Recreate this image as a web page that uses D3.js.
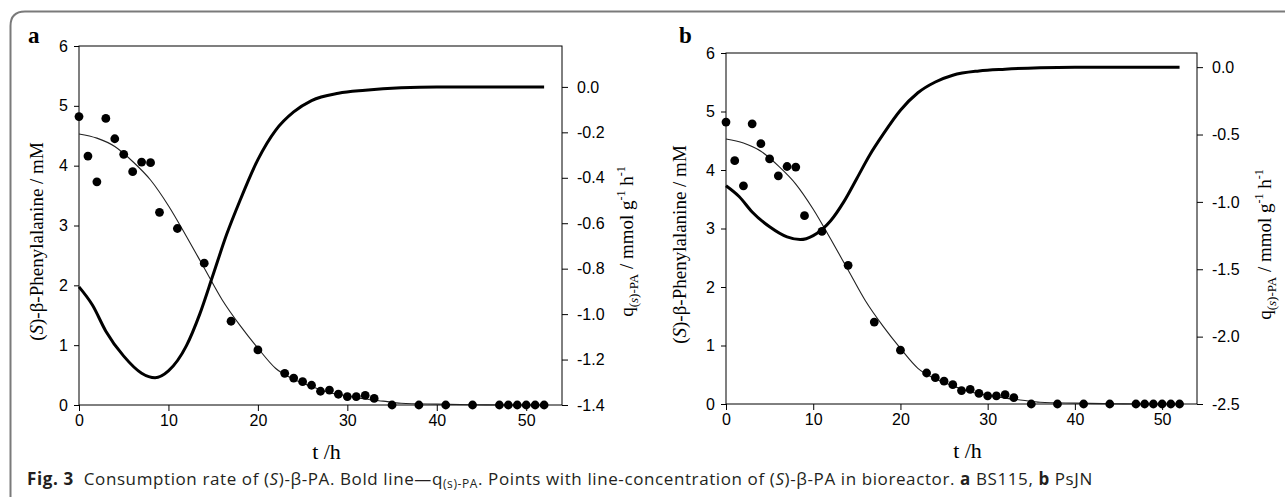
<!DOCTYPE html>
<html>
<head>
<meta charset="utf-8">
<script src="https://cdn.jsdelivr.net/npm/d3@7"></script>
<style>
  body { margin: 0; background: #fff; }
  svg { display: block; }
</style>
</head>
<body>
<div id="chart"></div>
<script>
// measured concentration of (S)-b-PA (points), both panels
const pointTimes = [0, 1, 2, 3, 4, 5, 6, 7, 8, 9, 11, 14, 17, 20, 23, 24, 25, 26, 27, 28, 29, 30, 31, 32, 33, 35, 38, 41, 44, 47, 48, 49, 50, 51, 52]
const pointConc  = [4.82, 4.16, 3.73, 4.79, 4.45, 4.19, 3.90, 4.06, 4.05, 3.22, 2.95, 2.37, 1.40, 0.92, 0.53, 0.45, 0.39, 0.33, 0.23, 0.25, 0.18, 0.14, 0.14, 0.16, 0.11, 0.0, 0.0, 0.0, 0.0, 0.0, 0.0, 0.0, 0.0, 0.0, 0.0]

// thin fitted line through the points
const fitTimes = [0, 2, 4, 6, 8, 10, 12, 14, 16, 18, 20, 22, 24, 26, 28, 30, 32, 34, 36, 40, 44, 48, 52]
const fitConc  = [4.53, 4.46, 4.32, 4.07, 3.76, 3.33, 2.82, 2.29, 1.76, 1.33, 0.95, 0.61, 0.43, 0.31, 0.21, 0.15, 0.10, 0.065, 0.03, 0.015, 0.005, 0.0, 0.0]

// bold line, q(s)-PA (right axis)
const qTimes = [0, 1.5, 3, 5, 7, 8.5, 10, 12, 13.5, 15, 16.5, 18, 20, 22, 24, 26, 29, 32, 36, 40, 52]
const qRate  = [-0.88, -0.96, -1.075, -1.185, -1.26, -1.28, -1.25, -1.14, -1.00, -0.826, -0.65, -0.50, -0.32, -0.19, -0.11, -0.06, -0.028, -0.015, -0.004, 0, 0]

const xTicks = [0, 10, 20, 30, 40, 50]
const leftTicks = [0, 1, 2, 3, 4, 5, 6]
const rightTicksA = [-1.4, -1.2, -1.0, -0.8, -0.6, -0.4, -0.2, 0.0]
const rightTicksB = [-2.5, -2.0, -1.5, -1.0, -0.5, 0.0]

const points = pointTimes.map((t, i) => ({t, c: pointConc[i]}))
const fit = fitTimes.map((t, i) => ({t, c: fitConc[i]}))
const qLine = qTimes.map((t, i) => ({t, q: qRate[i]}))

const width = 1285, height = 497

const svg = d3.select("#chart").append("svg")
    .attr("width", width)
    .attr("height", height)

// frame around the figure (top + left, rounded corner)
svg.append("path")
    .attr("d", "M10.5,500 L10.5,26 Q10.5,11.5 25,11.5 L1290,11.5")
    .attr("fill", "none")
    .attr("stroke", "#7a7a7a")
    .attr("stroke-width", 2)

const serif = "'Liberation Serif', 'Times New Roman', serif"
const sans = "'Liberation Sans', Arial, sans-serif"

function drawPanel(p) {
    const xScale = d3.scaleLinear().domain([0, 54]).range([p.left, p.right])
    const yScale = d3.scaleLinear().domain([0, 6]).range([p.bottom, p.top])
    const qScale = d3.scaleLinear().domain(p.qDomain).range([p.bottom, p.top])

    const g = svg.append("g")

    // plot box
    g.append("rect")
        .attr("x", p.left).attr("y", p.top)
        .attr("width", p.right - p.left).attr("height", p.bottom - p.top)
        .attr("fill", "none").attr("stroke", "#000").attr("stroke-width", 1)

    const xAxis = g.append("g")
        .attr("transform", `translate(0,${p.bottom})`)
        .call(d3.axisBottom(xScale).tickValues(xTicks).tickSize(6).tickPadding(4)
            .tickFormat(d3.format("d")))
    const yAxis = g.append("g")
        .attr("transform", `translate(${p.left},0)`)
        .call(d3.axisLeft(yScale).tickValues(leftTicks).tickSize(5).tickPadding(6)
            .tickFormat(d3.format("d")))
    const qAxis = g.append("g")
        .attr("transform", `translate(${p.right},0)`)
        .call(d3.axisRight(qScale).tickValues(p.qTicks).tickSize(6)
            .tickPadding(9).tickFormat(d => d.toFixed(1)))

    ;[xAxis, yAxis, qAxis].forEach(a => {
        a.select(".domain").remove()
        a.selectAll("line").attr("stroke", "#000")
        a.selectAll("text")
            .attr("font-family", sans)
            .attr("font-size", 16)
            .attr("fill", "#000")
    })

    // fitted thin line
    g.append("path")
        .datum(fit)
        .attr("d", d3.line().x(d => xScale(d.t)).y(d => yScale(d.c)).curve(d3.curveMonotoneX))
        .attr("fill", "none")
        .attr("stroke", "#222")
        .attr("stroke-width", 1.1)

    // bold q line
    g.append("path")
        .datum(qLine)
        .attr("d", d3.line().x(d => xScale(d.t)).y(d => qScale(d.q)).curve(d3.curveMonotoneX))
        .attr("fill", "none")
        .attr("stroke", "#000")
        .attr("stroke-width", 3)

    g.selectAll("circle.pt")
        .data(points)
        .join("circle")
        .attr("class", "pt")
        .attr("cx", d => xScale(d.t))
        .attr("cy", d => yScale(d.c))
        .attr("r", 4.4)
        .attr("fill", "#000")

    // panel letter
    g.append("text")
        .attr("x", p.letterX).attr("y", p.letterY)
        .attr("font-family", serif).attr("font-weight", "bold")
        .attr("font-size", 23)
        .text(p.letter)

    // x title
    g.append("text")
        .attr("x", (p.left + p.right) / 2 + 6).attr("y", p.bottom + 54)
        .attr("text-anchor", "middle")
        .attr("font-family", serif).attr("font-size", 22)
        .attr("xml:space", "preserve")
        .text("t /h")

    // left title
    const lt = g.append("text")
        .attr("transform", `translate(${p.leftTitleX},${(p.top + p.bottom) / 2 + 16}) rotate(-90)`)
        .attr("text-anchor", "middle")
        .attr("font-family", serif).attr("font-size", 19)
    lt.append("tspan").text("(")
    lt.append("tspan").attr("font-style", "italic").text("S")
    lt.append("tspan").text(")-β-Phenylalanine / mM")

    // right title
    const rt = g.append("text")
        .attr("transform", `translate(${p.rightTitleX},${(p.top + p.bottom) / 2 + 16}) rotate(-90)`)
        .attr("text-anchor", "middle")
        .attr("font-family", serif).attr("font-size", 19)
    rt.append("tspan").text("q")
    rt.append("tspan").attr("font-size", 13).attr("dy", 5).text("(")
    rt.append("tspan").attr("font-size", 13).attr("font-style", "italic").text("s")
    rt.append("tspan").attr("font-size", 13).text(")-PA")
    rt.append("tspan").attr("dy", -5).text(" / mmol g")
    rt.append("tspan").attr("font-size", 12).attr("dy", -8).text("-1")
    rt.append("tspan").attr("dy", 8).text(" h")
    rt.append("tspan").attr("font-size", 12).attr("dy", -8).text("-1")
}

drawPanel({
    letter: "a", letterX: 28, letterY: 43,
    left: 79, right: 562, top: 46, bottom: 405,
    qDomain: [-1.4, 0.18], qTicks: rightTicksA,
    leftTitleX: 43, rightTitleX: 633
})

drawPanel({
    letter: "b", letterX: 679, letterY: 43,
    left: 726, right: 1197, top: 53, bottom: 404,
    qDomain: [-2.5, 0.105], qTicks: rightTicksB,
    leftTitleX: 686, rightTitleX: 1271
})

// caption
const cap = svg.append("text")
    .attr("x", 27).attr("y", 485)
    .attr("font-family", "'Open Sans', 'Noto Sans', sans-serif")
    .attr("font-size", 17)
    .attr("letter-spacing", 0.6)
    .attr("fill", "#231f20")
    .attr("xml:space", "preserve")
cap.append("tspan").attr("font-weight", "bold").text("Fig. 3")
cap.append("tspan").text("  Consumption rate of (")
cap.append("tspan").attr("font-style", "italic").text("S")
cap.append("tspan").text(")-β-PA. Bold line—q")
cap.append("tspan").attr("font-size", 12).attr("dy", 3).text("(s)-PA")
cap.append("tspan").attr("dy", -3).text(". Points with line-concentration of (")
cap.append("tspan").attr("font-style", "italic").text("S")
cap.append("tspan").text(")-β-PA in bioreactor. ")
cap.append("tspan").attr("font-weight", "bold").text("a")
cap.append("tspan").text(" BS115, ")
cap.append("tspan").attr("font-weight", "bold").text("b")
cap.append("tspan").text(" PsJN")
</script>
</body>
</html>
